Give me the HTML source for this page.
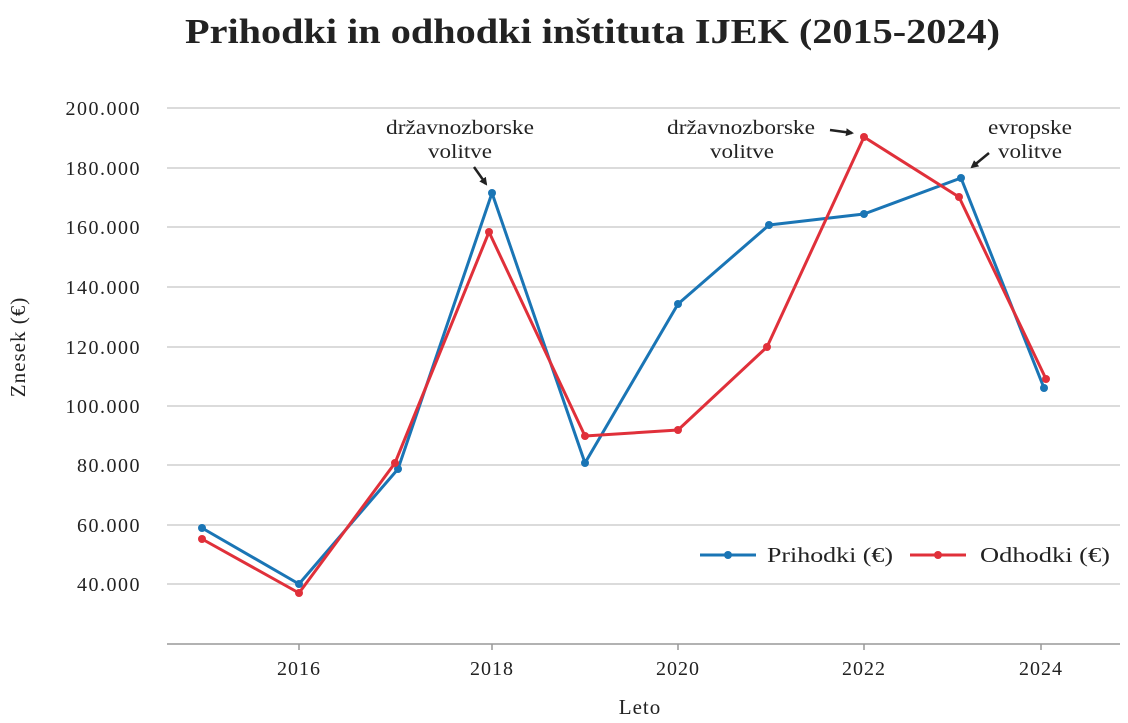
<!DOCTYPE html>
<html><head><meta charset="utf-8"><style>
body{margin:0;background:#fff;}
svg{display:block;font-family:"Liberation Serif",serif;}
</style></head><body>
<svg width="1128" height="723" viewBox="0 0 1128 723">
<defs><marker id="ah" markerWidth="8" markerHeight="8" refX="6" refY="4" orient="auto" markerUnits="userSpaceOnUse"><path d="M0,0 L8,4 L0,8 z" fill="#222"/></marker></defs>
<text x="185" y="43" font-size="35" font-weight="bold" fill="#222" textLength="815" lengthAdjust="spacingAndGlyphs">Prihodki in odhodki inštituta IJEK (2015-2024)</text>
<g stroke="#cfcfcf" stroke-width="1.5">
<line x1="167" x2="1120" y1="108" y2="108"/><line x1="167" x2="1120" y1="168" y2="168"/>
<line x1="167" x2="1120" y1="227" y2="227"/><line x1="167" x2="1120" y1="287" y2="287"/>
<line x1="167" x2="1120" y1="347" y2="347"/><line x1="167" x2="1120" y1="406" y2="406"/>
<line x1="167" x2="1120" y1="465" y2="465"/><line x1="167" x2="1120" y1="525" y2="525"/>
<line x1="167" x2="1120" y1="584" y2="584"/>
</g>
<line x1="167" x2="1120" y1="644" y2="644" stroke="#999" stroke-width="1.5"/>
<g stroke="#999" stroke-width="1.5"><line x1="299" x2="299" y1="644" y2="650"/><line x1="492" x2="492" y1="644" y2="650"/><line x1="678" x2="678" y1="644" y2="650"/><line x1="864" x2="864" y1="644" y2="650"/><line x1="1041" x2="1041" y1="644" y2="650"/></g>
<g font-size="20" fill="#222" text-anchor="end" letter-spacing="1.5">
<text x="141" y="115">200.000</text><text x="141" y="175">180.000</text><text x="141" y="234">160.000</text>
<text x="141" y="294">140.000</text><text x="141" y="354">120.000</text><text x="141" y="413">100.000</text>
<text x="141" y="472">80.000</text><text x="141" y="532">60.000</text><text x="141" y="591">40.000</text>
</g>
<g font-size="20" fill="#222" text-anchor="middle" letter-spacing="1">
<text x="299" y="675">2016</text><text x="492" y="675">2018</text><text x="678" y="675">2020</text><text x="864" y="675">2022</text><text x="1041" y="675">2024</text>
<text x="640" y="714" font-size="21">Leto</text>
</g>
<text transform="translate(25,347) rotate(-90)" font-size="21" text-anchor="middle" fill="#222" letter-spacing="1">Znesek (€)</text>
<polyline fill="none" stroke="#1a75b5" stroke-width="3" stroke-linejoin="round" points="202,528 299,584 398,469 492,193 585,463 678,304 769,225 864,214 961,178 1044,388"/>
<polyline fill="none" stroke="#e0303a" stroke-width="3" stroke-linejoin="round" points="202,539 299,593 395,463 489,232 585,436 678,430 767,347 864,137 959,197 1046,379"/>
<g fill="#1a75b5"><circle cx="202" cy="528" r="4"/><circle cx="299" cy="584" r="4"/><circle cx="398" cy="469" r="4"/><circle cx="492" cy="193" r="4"/><circle cx="585" cy="463" r="4"/><circle cx="678" cy="304" r="4"/><circle cx="769" cy="225" r="4"/><circle cx="864" cy="214" r="4"/><circle cx="961" cy="178" r="4"/><circle cx="1044" cy="388" r="4"/></g>
<g fill="#e0303a"><circle cx="202" cy="539" r="4"/><circle cx="299" cy="593" r="4"/><circle cx="395" cy="463" r="4"/><circle cx="489" cy="232" r="4"/><circle cx="585" cy="436" r="4"/><circle cx="678" cy="430" r="4"/><circle cx="767" cy="347" r="4"/><circle cx="864" cy="137" r="4"/><circle cx="959" cy="197" r="4"/><circle cx="1046" cy="379" r="4"/></g>
<g font-size="20" fill="#222">
<text x="386" y="134" textLength="148" lengthAdjust="spacingAndGlyphs">državnozborske</text><text x="428" y="158" textLength="64" lengthAdjust="spacingAndGlyphs">volitve</text>
<text x="667" y="134" textLength="148" lengthAdjust="spacingAndGlyphs">državnozborske</text><text x="710" y="158" textLength="64" lengthAdjust="spacingAndGlyphs">volitve</text>
<text x="988" y="134" textLength="84" lengthAdjust="spacingAndGlyphs">evropske</text><text x="998" y="158" textLength="64" lengthAdjust="spacingAndGlyphs">volitve</text>
</g>
<g stroke="#222" stroke-width="2.5">
<line x1="474" y1="167" x2="486" y2="184" marker-end="url(#ah)"/>
<line x1="830" y1="130" x2="852" y2="133" marker-end="url(#ah)"/>
<line x1="989" y1="153" x2="972" y2="167" marker-end="url(#ah)"/>
</g>
<line x1="700" x2="756" y1="555" y2="555" stroke="#1a75b5" stroke-width="3"/><circle cx="728" cy="555" r="4" fill="#1a75b5"/>
<text x="767" y="562" font-size="21" fill="#222" textLength="126" lengthAdjust="spacingAndGlyphs">Prihodki (€)</text>
<line x1="910" x2="966" y1="555" y2="555" stroke="#e0303a" stroke-width="3"/><circle cx="938" cy="555" r="4" fill="#e0303a"/>
<text x="980" y="562" font-size="21" fill="#222" textLength="130" lengthAdjust="spacingAndGlyphs">Odhodki (€)</text>
</svg>
</body></html>
